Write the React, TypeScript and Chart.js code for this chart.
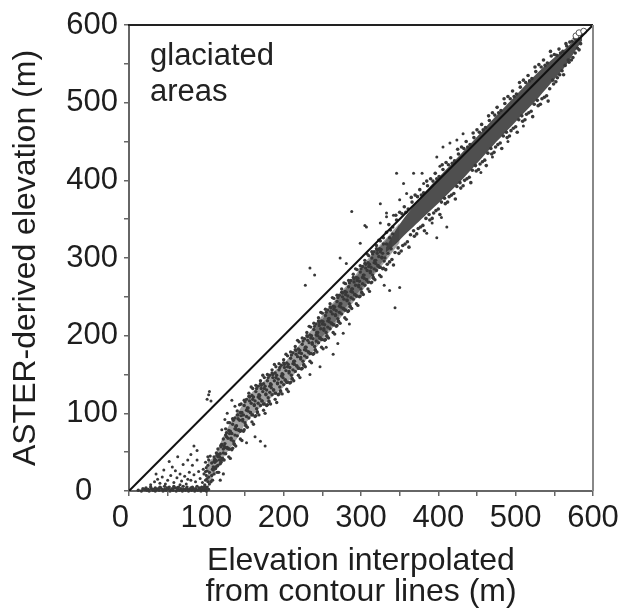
import React, { useEffect, useRef } from 'react';
import { Chart, registerables } from 'chart.js';

Chart.register(...registerables);

type P = [number, number];

const FONT = "'Liberation Sans', Arial, sans-serif";

const xMajorTicks = [0, 100, 200, 300, 400, 500, 600];
const yMajorTicks = [0, 100, 200, 300, 400, 500, 600];
const xTitleLines = ['Elevation interpolated', 'from contour lines (m)'];
const yTitleText = 'ASTER-derived elevation (m)';
const annotationLines = ['glaciated', 'areas'];

// 1:1 reference line
const oneToOne: P[] = [[0, 0], [600, 600]];

// points lying on the bottom axis (x 10-100)
const bottomStrip: P[] = [
  [12,1],[16,0],[20,2],[23,1],[26,0],[29,3],[31,1],[34,0],[36,2],[39,1],[41,4],[44,0],[46,2],[48,1],
  [51,3],[53,0],[55,2],[57,1],[59,4],[61,0],[63,2],[65,1],[67,3],[69,0],[71,2],[73,1],[75,5],[77,0],
  [79,2],[81,1],[83,3],[85,0],[87,2],[89,1],[91,4],[93,0],[95,2],[97,1],[99,3],[100,0],[98,6],[94,5],
  [88,6],[82,5],[76,2],[70,6],[64,5],[58,6],[52,5],[46,6],[40,5],[34,4],[28,5],[22,4],
  [18,3],[25,2],[32,2],[38,3],[43,2],[49,4],[56,3],[62,4],[68,2],[74,3],[80,4],[86,3],[92,2],[96,4],
];

// scattered low points (x 25-100)
const lowSpread: P[] = [
  [28,8],[33,12],[37,15],[40,10],[43,18],[47,9],[50,14],[54,20],[56,31],[58,11],[62,17],[66,22],
  [68,13],[72,19],[74,9],[78,24],[80,14],[84,21],[86,12],[90,25],[92,16],[95,11],[96,28],[45,27],
  [52,38],[60,26],[70,34],[82,33],[88,40],[63,44],[35,22],[76,15],[66,8],[84,58],[80,47],[88,52],[76,40],
];

// near-vertical cluster at x ~ 100
const stemCluster: P[] = [
  [98,8],[99,14],[100,20],[101,5],[101,26],[102,12],[102,33],[103,18],[103,40],[100,30],[99,37],
  [104,24],[104,9],[105,45],[97,22],[102,44],[118,14],[122,22],[100,3],[103,2],[99,25],[101,16],
];

// lower band (x 105-330), first set
const lowerBand: P[] = [
  [106,12],[107,20],[108,28],[107,36],[110,22],[109,31],[111,37],[110,44],[114,24],[112,31],[113,39],[114,46],
  [115,33],[117,40],[116,47],[115,54],[119,37],[120,42],[118,48],[119,57],[121,40],[122,49],[123,58],[122,67],
  [125,48],[124,61],[126,70],[125,80],[129,44],[127,56],[128,68],[129,78],[130,54],[132,66],[131,77],[130,88],
  [134,55],[135,64],[133,74],[134,86],[136,60],[137,72],[138,83],[137,94],[140,71],[139,84],[141,93],[140,103],
  [144,67],[142,79],[143,91],[144,101],[145,78],[147,90],[146,101],[145,112],[149,79],[150,88],[148,98],[149,110],
  [151,84],[152,96],[153,107],[152,118],[155,94],[154,107],[156,116],[155,126],[159,89],[157,101],[158,113],[159,123],
  [160,98],[162,110],[161,121],[160,132],[164,97],[165,106],[163,116],[164,128],[166,101],[167,113],[168,124],[167,135],
  [170,110],[169,123],[171,132],[170,142],[174,104],[172,116],[173,128],[174,138],[175,112],[177,124],[176,135],[175,146],
  [179,111],[180,120],[178,130],[179,142],[181,115],[182,127],[183,138],[182,149],[185,124],[184,137],[186,146],[185,156],
  [189,118],[187,130],[188,142],[189,152],[190,126],[192,138],[191,149],[190,160],[194,125],[195,134],[193,144],[194,156],
  [196,128],[197,140],[198,151],[197,162],[200,137],[199,150],[201,159],[200,169],[204,131],[202,143],[203,155],[204,165],
  [205,140],[207,152],[206,163],[205,174],[209,140],[210,149],[208,159],[209,171],[211,144],[212,156],[213,167],[212,178],
  [215,154],[214,167],[216,176],[215,186],[219,149],[217,161],[218,173],[219,183],[220,158],[222,170],[221,181],[220,192],
  [224,158],[225,167],[223,177],[224,189],[226,162],[227,174],[228,185],[227,196],[230,172],[229,185],[231,194],[230,204],
  [234,167],[232,179],[233,191],[234,201],[235,177],[237,189],[236,200],[235,211],[239,177],[240,186],[238,196],[239,208],
  [241,181],[242,193],[243,204],[242,215],[245,191],[244,204],[246,213],[245,223],[249,185],[247,197],[248,209],[249,219],
  [250,195],[252,207],[251,218],[250,229],[254,195],[255,204],[253,214],[254,226],[256,199],[257,211],[258,222],[257,233],
  [260,209],[259,222],[261,231],[260,241],[264,204],[262,216],[263,228],[264,238],[265,214],[267,226],[266,237],[265,248],
  [269,213],[270,222],[268,232],[269,244],[271,218],[272,230],[273,241],[272,252],[275,228],[274,241],[276,250],[275,260],
  [279,223],[277,235],[278,247],[279,257],[280,233],[282,245],[281,256],[280,267],[284,232],[285,241],[283,251],[284,263],
  [286,237],[287,249],[288,260],[287,271],[290,247],[289,260],[291,269],[290,279],[294,241],[292,253],[293,265],[294,275],
  [295,251],[297,263],[296,274],[295,285],[299,251],[300,260],[298,270],[299,282],[301,255],[302,267],[303,278],[302,289],
  [305,265],[304,278],[306,287],[305,297],[309,260],[307,272],[308,284],[309,294],[310,269],[312,281],[311,292],[310,303],
  [314,269],[315,278],[313,288],[314,300],[316,274],[317,286],[318,297],[317,308],[320,284],[319,297],[321,306],[320,316],
  [324,278],[322,290],[323,302],[324,312],[325,288],[327,300],[326,311],[325,322],[329,287],[330,296],[328,306],[329,318],
];

// lower band, second set (fills gaps between the first)
const lowerBand2: P[] = [
  [108,14],[109,27],[110,38],[112,29],[111,41],[113,49],[116,24],[115,44],[114,32],[117,44],[119,59],[118,35],
  [121,42],[122,54],[120,60],[123,40],[124,56],[125,72],[127,55],[126,75],[128,88],[131,42],[130,74],[129,54],
  [132,68],[134,93],[133,53],[136,61],[137,80],[135,91],[138,58],[139,79],[140,98],[142,78],[141,98],[143,111],
  [146,65],[145,97],[144,77],[147,92],[149,117],[148,77],[151,85],[152,104],[150,115],[153,82],[154,103],[155,122],
  [157,101],[156,121],[158,134],[161,86],[160,118],[159,98],[162,111],[164,136],[163,96],[166,102],[167,121],[165,132],
  [168,98],[169,119],[170,138],[172,116],[171,136],[173,149],[176,100],[175,132],[174,112],[177,125],[179,150],[178,110],
  [181,116],[182,135],[180,146],[183,112],[184,133],[185,152],[187,130],[186,150],[188,163],[191,114],[190,146],[189,126],
  [192,139],[194,164],[193,124],[196,129],[197,148],[195,159],[198,125],[199,146],[200,165],[202,143],[201,163],[203,176],
  [206,128],[205,160],[204,140],[207,154],[209,179],[208,139],[211,145],[212,164],[210,175],[213,142],[214,163],[215,182],
  [217,161],[216,181],[218,194],[221,146],[220,178],[219,158],[222,172],[224,197],[223,157],[226,163],[227,182],[225,193],
  [228,160],[229,181],[230,200],[232,179],[231,199],[233,212],[236,165],[235,197],[234,177],[237,191],[239,216],[238,176],
  [241,182],[242,201],[240,212],[243,179],[244,200],[245,219],[247,197],[246,217],[248,230],[251,183],[250,215],[249,195],
  [252,209],[254,234],[253,194],[256,200],[257,219],[255,230],[258,197],[259,218],[260,237],[262,216],[261,236],[263,249],
  [266,202],[265,234],[264,214],[267,227],[269,252],[268,212],[271,219],[272,238],[270,249],[273,216],[274,237],[275,256],
  [277,235],[276,255],[278,268],[281,221],[280,253],[279,233],[282,246],[284,271],[283,231],[286,238],[287,257],[285,268],
  [288,235],[289,256],[290,275],[292,253],[291,273],[293,286],[296,239],[295,271],[294,251],[297,265],[299,290],[298,250],
  [301,256],[302,275],[300,286],[303,253],[304,274],[305,293],[307,272],[306,292],[308,305],[311,257],[310,289],[309,269],
  [312,283],[314,308],[313,268],[316,275],[317,294],[315,305],[318,272],[319,293],[320,312],[322,290],[321,310],[323,323],
  [326,276],[325,308],[324,288],[327,301],[329,326],[328,286],[331,300],[333,318],[335,306],[337,326],[339,312],[341,331],
];

// fringe points of the dense upper band (x 330-585)
const upperFringe: P[] = [
  [332,285],[333,333],[334,292],[337,295],[336,343],[338,336],[342,291],[341,340],[340,298],[344,307],[346,349],[345,355],
  [349,306],[350,359],[348,313],[352,309],[353,357],[354,316],[357,318],[356,366],[358,359],[362,314],[361,363],[360,321],
  [364,330],[366,372],[365,378],[369,328],[370,381],[368,335],[372,331],[373,379],[374,338],[377,340],[376,388],[378,381],
  [382,335],[381,384],[380,342],[384,351],[386,393],[385,399],[389,349],[390,402],[388,356],[392,351],[393,399],[394,358],
  [397,361],[396,409],[398,402],[402,356],[401,405],[400,363],[404,372],[406,414],[405,420],[409,370],[410,423],[408,377],
  [412,372],[413,420],[414,379],[417,381],[416,429],[418,422],[422,376],[421,425],[420,383],[424,392],[426,434],[425,440],
  [429,390],[430,443],[428,397],[432,393],[433,441],[434,400],[437,402],[436,450],[438,443],[442,397],[441,446],[440,404],
  [444,413],[446,455],[445,461],[449,412],[450,465],[448,419],[452,414],[453,462],[454,421],[457,424],[456,472],[458,465],
  [462,419],[461,468],[460,426],[464,435],[466,477],[465,483],[469,434],[470,487],[468,441],[472,436],[473,484],[474,443],
  [477,446],[476,494],[478,487],[482,441],[481,490],[480,448],[484,457],[486,499],[485,505],[489,455],[490,508],[488,462],
  [492,457],[493,505],[494,464],[497,467],[496,515],[498,508],[502,462],[501,511],[500,469],[504,478],[506,520],[505,526],
  [509,476],[510,529],[508,483],[512,478],[513,526],[514,485],[517,487],[516,535],[518,528],[522,482],[521,531],[520,489],
  [524,498],[526,540],[525,546],[529,496],[530,549],[528,503],[532,498],[533,546],[534,505],[537,507],[536,555],[538,548],
  [542,502],[541,551],[540,509],[544,518],[546,560],[545,566],[549,524],[550,562],[548,529],[552,527],[553,561],[554,532],
  [557,536],[556,569],[558,564],[562,536],[561,566],[560,541],[564,548],[566,573],[565,576],[569,552],[570,578],[568,555],
  [572,555],[573,579],[574,558],[577,564],[576,583],[578,581],[582,568],[581,582],[580,570],[584,576],[585,587],
];

// isolated points above the 1:1 line
const outliersAbove: P[] = [
  [101,118],[103,124],[106,116],[104,128],[133,117],[137,109],[124,92],[120,79],[127,100],
  [234,287],[240,278],[228,265],[273,300],[281,293],[288,360],[299,319],[305,342],[325,345],[333,353],[342,355],
  [346,409],[355,396],[368,409],[379,409],[381,396],[359,383],[350,375],[325,370],[333,358],[307,340],
  [398,430],[406,443],[415,448],[424,452],[402,418],[432,460],
];

// isolated points below the band
const outliersBelow: P[] = [
  [152,62],[170,64],[176,58],[163,70],[264,176],[247,160],[277,203],[234,150],[255,185],[285,215],[270,190],
  [337,258],[344,236],[330,265],[350,262],[385,332],[398,326],[411,340],[392,345],[404,352],
  [470,430],[490,450],[510,470],[530,497],[455,410],
];

// open markers at the top end
const hollowTop: P[] = [[578,586],[582,590],[588,592]];

// envelope of the lower (speckled) band: x, lower y, upper y
const bandX = [102, 110, 120, 130, 140, 150, 160, 175, 190, 200, 215, 230, 245, 260, 275, 290, 305, 320, 335, 350];
const bandLo = [2, 22, 40, 54, 68, 86, 98, 112, 126, 134, 152, 170, 188, 206, 225, 243, 262, 282, 300, 320];
const bandHi = [38, 44, 66, 86, 100, 116, 128, 142, 156, 164, 182, 200, 220, 238, 257, 275, 294, 312, 328, 345];

// envelope of the denser middle part (x 240-340)
const midX = [240, 260, 280, 300, 320, 340];
const midLo = [188, 210, 236, 260, 285, 312];
const midHi = [208, 234, 260, 284, 309, 332];

// envelope of the dense (solid) upper band
const coreX = [332, 345, 360, 375, 390, 410, 430, 450, 470, 490, 510, 530, 550, 565, 578, 586];
const coreLo = [307, 318, 333, 347, 361, 380, 400, 422, 444, 465, 486, 507, 530, 548, 568, 580];
const coreHi = [313, 336, 357, 376, 393, 414, 435, 456, 478, 499, 520, 540, 558, 570, 582, 586];

const toXY = (a: P[]) => a.map(([x, y]) => ({ x, y }));
const zipXY = (xs: number[], ys: number[]) => xs.map((x, i) => ({ x, y: ys[i] }));

const DOT = '#383838';

const dots = (data: P[], r: number, order = 3) => ({
  data: toXY(data),
  showLine: false,
  pointRadius: r,
  pointHoverRadius: r,
  pointBackgroundColor: DOT,
  pointBorderWidth: 0,
  borderWidth: 0,
  clip: false as const,
  order,
});

const envelope = (xs: number[], lo: number[], hi: number[], color: string, order: number) => [
  { data: zipXY(xs, lo), borderWidth: 0, pointRadius: 0, fill: false, tension: 0.3, order },
  { data: zipXY(xs, hi), borderWidth: 0, pointRadius: 0, fill: '-1', tension: 0.3, backgroundColor: color, order },
];

const framePlugin = {
  id: 'frameAndNote',
  afterDraw(chart: any) {
    const { ctx, chartArea } = chart;
    const { left, top, right, bottom } = chartArea;
    ctx.save();
    ctx.lineWidth = 2;
    ctx.strokeStyle = '#222';
    ctx.beginPath();
    ctx.moveTo(left - 1, top);
    ctx.lineTo(right, top);
    ctx.stroke();
    ctx.strokeStyle = '#888';
    ctx.beginPath();
    ctx.moveTo(right, top);
    ctx.lineTo(right, bottom);
    ctx.stroke();
    ctx.fillStyle = '#222';
    ctx.font = `31px ${FONT}`;
    ctx.textAlign = 'left';
    ctx.textBaseline = 'alphabetic';
    ctx.fillText(annotationLines[0], left + 21, top + 40);
    ctx.fillText(annotationLines[1], left + 21, top + 76);
    ctx.restore();
  },
};

export default function App() {
  const ref = useRef<HTMLCanvasElement>(null);

  useEffect(() => {
    const canvas = ref.current;
    if (!canvas) return;
    const tickFont = { family: FONT, size: 31 };
    const chart = new Chart(canvas, {
      type: 'line',
      data: {
        datasets: [
          ...envelope(bandX, bandLo, bandHi, 'rgba(60,60,60,0.48)', 11),
          ...envelope(midX, midLo, midHi, 'rgba(55,55,55,0.5)', 10),
          ...envelope(coreX, coreLo, coreHi, 'rgba(60,60,60,0.9)', 9),
          dots(bottomStrip, 1.7),
          dots(lowSpread, 1.5),
          dots(stemCluster, 1.6),
          dots(lowerBand, 1.7),
          dots(lowerBand2, 1.7),
          dots(upperFringe, 1.8),
          dots(outliersAbove, 1.5),
          dots(outliersBelow, 1.5),
          {
            data: toXY(hollowTop), showLine: false, pointRadius: 3, pointBackgroundColor: '#fff',
            pointBorderColor: '#555', pointBorderWidth: 1, borderWidth: 0, clip: false, order: 2,
          },
          { data: toXY(oneToOne), borderColor: '#111', borderWidth: 2, pointRadius: 0, tension: 0, fill: false, order: 0 },
        ] as any,
      },
      options: {
        animation: false,
        responsive: false,
        events: [],
        layout: { padding: { left: 0, top: 25, right: 32, bottom: 0 } },
        plugins: { legend: { display: false }, tooltip: { enabled: false } },
        scales: {
          x: {
            type: 'linear',
            min: 0,
            max: 600,
            afterFit: (s: any) => { s.height = 125; },
            border: { display: true, color: '#666', width: 2 },
            grid: { drawOnChartArea: false, drawTicks: true, tickLength: 5, color: '#666', lineWidth: 1.5 },
            ticks: {
              stepSize: 50, autoSkip: false, maxRotation: 0, minRotation: 0, padding: 4,
              font: tickFont, color: '#1e1e1e',
              callback: (v: any) => {
                const n = Number(v);
                if (!xMajorTicks.includes(n)) return '';
                return n === 0 ? '0  ' : String(n);
              },
            },
            title: {
              display: true, text: xTitleLines, color: '#1e1e1e',
              font: { family: FONT, size: 32, lineHeight: 0.95 }, padding: { top: 0, bottom: 9 },
            },
          },
          y: {
            type: 'linear',
            min: 0,
            max: 600,
            afterFit: (s: any) => { s.width = 129; },
            border: { display: true, color: '#666', width: 2 },
            grid: { drawOnChartArea: false, drawTicks: true, tickLength: 5, color: '#666', lineWidth: 1.5 },
            ticks: {
              stepSize: 50, autoSkip: false, padding: 6, font: tickFont, color: '#1e1e1e',
              callback: (v: any) => {
                const n = Number(v);
                if (!yMajorTicks.includes(n)) return '';
                return n === 0 ? '0   ' : String(n);
              },
            },
            title: {
              display: true, text: yTitleText, color: '#1e1e1e',
              font: { family: FONT, size: 32, lineHeight: 1.2 }, padding: { top: 7, bottom: 0 },
            },
          },
        },
      } as any,
      plugins: [framePlugin],
    });
    return () => chart.destroy();
  }, []);

  return (
    <canvas
      ref={ref}
      width={625}
      height={616}
      style={{ position: 'absolute', left: 0, top: 0, display: 'block' }}
    />
  );
}
